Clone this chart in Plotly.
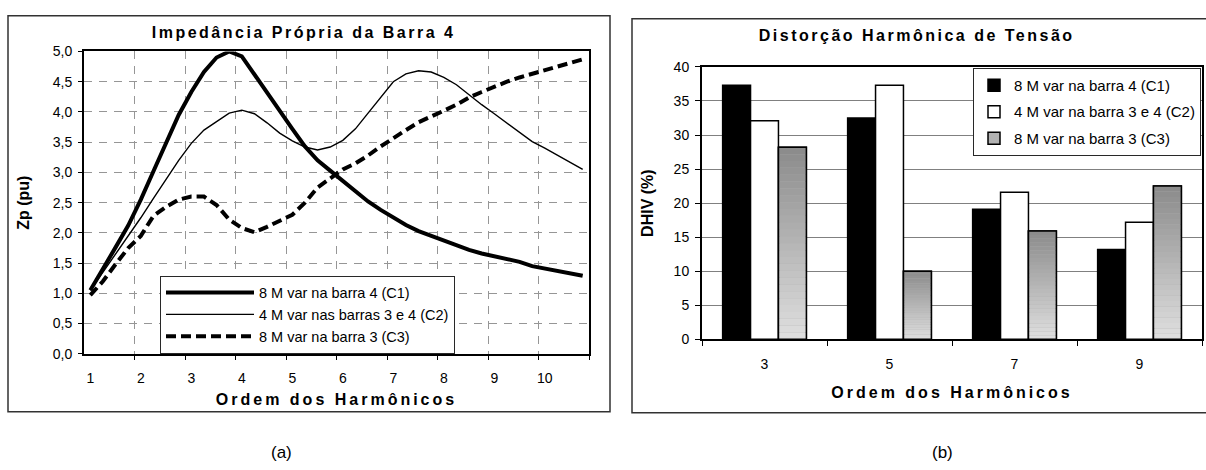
import plotly.graph_objects as go

W, H = 1206, 470

# ---- (a) self impedance of bus 4 versus harmonic order ----
ordem = [1.0, 1.25, 1.5, 1.75, 2.0, 2.25, 2.5, 2.75, 3.0, 3.25,
         3.5, 3.75, 4.0, 4.25, 4.5, 4.75, 5.0, 5.25, 5.5, 5.75,
         6.0, 6.25, 6.5, 6.75, 7.0, 7.25, 7.5, 7.75, 8.0, 8.25,
         8.5, 8.75, 9.0, 9.25, 9.5, 9.75, 10.0, 10.25, 10.5, 10.75]

zp_c1 = [1.05, 1.42, 1.76, 2.12, 2.55, 3.02, 3.48, 3.95, 4.33, 4.66,
         4.90, 5.00, 4.92, 4.62, 4.30, 4.00, 3.72, 3.43, 3.20, 3.03,
         2.86, 2.69, 2.52, 2.38, 2.25, 2.13, 2.03, 1.95, 1.87, 1.79,
         1.72, 1.66, 1.61, 1.57, 1.52, 1.45, 1.41, 1.37, 1.33, 1.29]

zp_c2 = [1.05, 1.35, 1.63, 1.93, 2.25, 2.57, 2.88, 3.20, 3.48, 3.70,
         3.84, 3.98, 4.03, 3.97, 3.82, 3.65, 3.52, 3.42, 3.37, 3.42,
         3.53, 3.72, 3.98, 4.25, 4.50, 4.63, 4.68, 4.66, 4.57, 4.45,
         4.28, 4.12, 3.97, 3.82, 3.66, 3.51, 3.40, 3.28, 3.17, 3.05]

zp_c3 = [0.97, 1.20, 1.48, 1.75, 1.95, 2.28, 2.43, 2.55, 2.60, 2.60,
         2.46, 2.22, 2.08, 2.01, 2.10, 2.20, 2.30, 2.50, 2.75, 2.90,
         3.05, 3.15, 3.28, 3.43, 3.57, 3.70, 3.83, 3.92, 4.02, 4.12,
         4.24, 4.33, 4.42, 4.50, 4.57, 4.63, 4.70, 4.76, 4.82, 4.87]

nomes_a = ["8 M var na barra 4 (C1)",
           "4 M var nas barras 3 e 4 (C2)",
           "8 M var na barra 3 (C3)"]

ticks_a = [1, 2, 3, 4, 5, 6, 7, 8, 9, 10]
limites_a = [1.875, 2.875, 3.875, 4.875, 5.875, 6.875, 7.875, 8.875, 9.875, 10.875]

# ---- (b) voltage harmonic distortion per harmonic order ----
ordem_b = ["3", "5", "7", "9"]
dhiv_c1 = [37.3, 32.5, 19.1, 13.2]
dhiv_c2 = [32.1, 37.3, 21.6, 17.2]
dhiv_c3 = [28.2, 10.0, 15.9, 22.5]

nomes_b = ["8 M var na barra 4 (C1)",
           "4 M var na barra 3 e 4 (C2)",
           "8 M var na barra 3 (C3)"]

FONT = "Liberation Sans, Arial, sans-serif"

fig = go.Figure()

# Line series (left panel)
fig.add_trace(go.Scatter(x=ordem, y=zp_c1, name=nomes_a[0], mode="lines",
                         line=dict(color="black", width=4),
                         xaxis="x", yaxis="y", legend="legend"))
fig.add_trace(go.Scatter(x=ordem, y=zp_c2, name=nomes_a[1], mode="lines",
                         line=dict(color="black", width=1.4),
                         xaxis="x", yaxis="y", legend="legend"))
fig.add_trace(go.Scatter(x=ordem, y=zp_c3, name=nomes_a[2], mode="lines",
                         line=dict(color="black", width=4, dash="10px,5px"),
                         xaxis="x", yaxis="y", legend="legend"))

# Bars (right panel)
bar_line = dict(color="black", width=1.5)
fig.add_trace(go.Bar(x=ordem_b, y=dhiv_c1, name=nomes_b[0], offsetgroup="c1",
                     marker=dict(color="black", line=bar_line),
                     xaxis="x2", yaxis="y2", legend="legend2", legendgroup="g1"))
fig.add_trace(go.Bar(x=ordem_b, y=dhiv_c2, name=nomes_b[1], offsetgroup="c2",
                     marker=dict(color="white", line=bar_line),
                     xaxis="x2", yaxis="y2", legend="legend2", legendgroup="g2"))

# C3 bars: solid grey base (also the legend key), then a vertical grey
# gradient made of slices of each bar's own value, then the outline on top
fig.add_trace(go.Bar(x=ordem_b, y=dhiv_c3, name=nomes_b[2], offsetgroup="c3",
                     marker=dict(color="rgb(178,178,178)", line=bar_line),
                     xaxis="x2", yaxis="y2", legend="legend2", legendgroup="g3"))
N_FAIXAS = 28
claro, escuro = 222, 140
for k in range(N_FAIXAS):
    t = k / (N_FAIXAS - 1)
    g = round(claro + (escuro - claro) * t)
    fig.add_trace(go.Bar(x=ordem_b,
                         y=[v / N_FAIXAS for v in dhiv_c3],
                         base=[v * k / N_FAIXAS for v in dhiv_c3],
                         offsetgroup="c3", showlegend=False, hoverinfo="skip",
                         marker=dict(color=f"rgb({g},{g},{g})", line=dict(width=0)),
                         xaxis="x2", yaxis="y2"))
fig.add_trace(go.Bar(x=ordem_b, y=dhiv_c3, offsetgroup="c3", showlegend=False,
                     hoverinfo="skip",
                     marker=dict(color="rgba(0,0,0,0)", line=bar_line),
                     xaxis="x2", yaxis="y2"))


def px_x(p):
    return p / W


def px_y(p):
    return 1 - p / H


tick_font = dict(family=FONT, size=14, color="black")
title_font = dict(family=FONT, size=16, color="black", weight="bold")
grid_a = "rgb(150,150,150)"

fig.update_layout(
    width=W, height=H,
    margin=dict(l=0, r=0, t=0, b=0),
    paper_bgcolor="white", plot_bgcolor="white",
    separators=", ",
    showlegend=True,
    bargap=0.33, bargroupgap=0,
    barmode="group",
    font=dict(family=FONT, color="black"),
    xaxis=dict(
        domain=[px_x(84), px_x(589)], anchor="y",
        range=[0.875, 10.875],
        tickmode="array", tickvals=ticks_a, ticktext=[str(t) for t in ticks_a],
        ticks="", showgrid=False, zeroline=False,
        ticklabelstandoff=10,
        tickfont=tick_font,
        showline=True, linecolor="black", linewidth=2, mirror=True,
        minor=dict(tickmode="array", tickvals=limites_a, ticks="outside",
                   ticklen=4, tickcolor="black", tickwidth=1,
                   showgrid=True, gridcolor=grid_a,
                   griddash="8px,7px", gridwidth=1),
        title=dict(text="Ordem dos Harmônicos", font=title_font, standoff=9),
    ),
    yaxis=dict(
        domain=[px_y(358), px_y(45)], anchor="x",
        range=[0, 5], dtick=0.5, tick0=0, tickformat=".1f",
        ticks="outside", ticklen=4, tickcolor="black",
        ticklabelstandoff=3,
        showgrid=True, gridcolor=grid_a, griddash="8px,7px",
        zeroline=False, tickfont=tick_font,
        showline=True, linecolor="black", linewidth=2, mirror=True,
        title=dict(text="Zp (pu)", font=title_font, standoff=19),
    ),
    xaxis2=dict(
        domain=[px_x(702), px_x(1202)], anchor="y2",
        type="category", tickson="boundaries",
        ticks="outside", ticklen=5, tickcolor="black",
        ticklabelstandoff=11,
        showgrid=False, zeroline=False, tickfont=tick_font,
        showline=True, linecolor="black", linewidth=2, mirror=True,
        title=dict(text="Ordem dos Harmônicos", font=title_font, standoff=16),
    ),
    yaxis2=dict(
        domain=[px_y(343), px_y(61)], anchor="x2",
        range=[0, 40], dtick=5, tick0=0,
        ticks="outside", ticklen=5, tickcolor="black",
        ticklabelstandoff=3,
        showgrid=True, gridcolor="rgb(128,128,128)", gridwidth=1,
        zeroline=False, tickfont=tick_font,
        showline=True, linecolor="black", linewidth=2, mirror=True,
        title=dict(text="DHIV (%)", font=title_font, standoff=16),
    ),
    legend=dict(
        x=px_x(160), y=px_y(277), xanchor="left", yanchor="top",
        bgcolor="white", bordercolor="rgb(40,40,40)", borderwidth=1,
        font=dict(family=FONT, size=14.5, color="black"),
        itemwidth=88, tracegroupgap=0,
    ),
    legend2=dict(
        x=px_x(973), y=px_y(62), xanchor="left", yanchor="top",
        bgcolor="white", bordercolor="rgb(40,40,40)", borderwidth=1,
        font=dict(family=FONT, size=15, color="black"),
        traceorder="grouped", tracegroupgap=4, itemwidth=30,
    ),
    annotations=[
        dict(text="Impedância Própria da Barra 4", x=px_x(303), y=px_y(25),
             xref="paper", yref="paper", showarrow=False,
             xanchor="center", yanchor="middle", font=title_font),
        dict(text="Distorção Harmônica de Tensão", x=px_x(917), y=px_y(28),
             xref="paper", yref="paper", showarrow=False,
             xanchor="center", yanchor="middle", font=title_font),
        dict(text="(a)", x=px_x(281), y=px_y(460), xref="paper", yref="paper",
             showarrow=False, xanchor="center", yanchor="middle",
             font=dict(family=FONT, size=17, color="black")),
        dict(text="(b)", x=px_x(942), y=px_y(460), xref="paper", yref="paper",
             showarrow=False, xanchor="center", yanchor="middle",
             font=dict(family=FONT, size=17, color="black")),
    ],
    shapes=[
        dict(type="rect", xref="paper", yref="paper",
             x0=px_x(8), x1=px_x(610), y0=px_y(418), y1=px_y(8),
             line=dict(color="rgb(50,50,50)", width=1.5), layer="below"),
        dict(type="rect", xref="paper", yref="paper",
             x0=px_x(632), x1=px_x(1212), y0=px_y(419), y1=px_y(11),
             line=dict(color="rgb(50,50,50)", width=1.5), layer="below"),
    ],
)

# Spaced lettering for the panel titles and the horizontal axis titles
spacing_css = (
    "var s=document.createElement('style');"
    "s.textContent='.xtitle,.x2title{letter-spacing:3px}"
    " g.annotation[data-index=\"0\"] text, g.annotation[data-index=\"1\"] text"
    "{letter-spacing:2.5px}';"
    "document.head.appendChild(s);"
)

fig.write_html("out.html", post_script=spacing_css)
